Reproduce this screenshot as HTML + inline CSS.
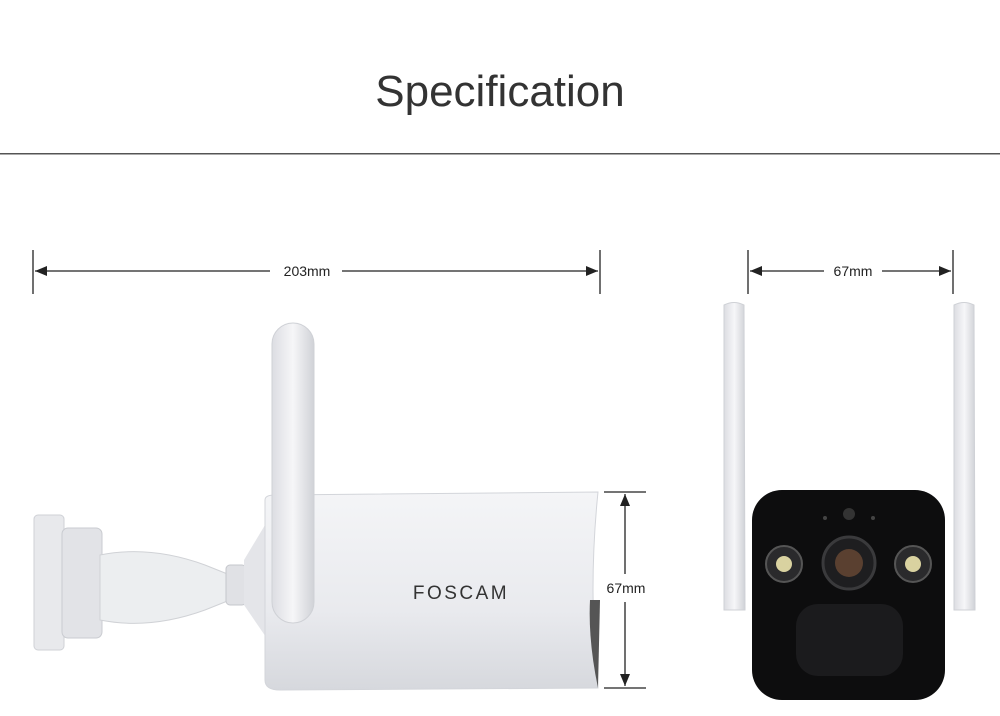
<!DOCTYPE html>
<html><head><meta charset="utf-8"><style>
html,body{margin:0;padding:0;background:#fff;width:1000px;height:716px;overflow:hidden}
</style></head><body>
<svg width="1000" height="716" viewBox="0 0 1000 716" xmlns="http://www.w3.org/2000/svg">
<defs>
<linearGradient id="body" x1="0" y1="0" x2="0" y2="1">
<stop offset="0" stop-color="#f4f5f7"/><stop offset="0.6" stop-color="#e9eaee"/><stop offset="1" stop-color="#d6d8dd"/></linearGradient>
<linearGradient id="ant" x1="0" y1="0" x2="1" y2="0">
<stop offset="0" stop-color="#dcdde2"/><stop offset="0.5" stop-color="#f6f6f8"/><stop offset="1" stop-color="#d0d2d7"/></linearGradient>
</defs>
<text x="500" y="106" text-anchor="middle" font-family="Liberation Sans, sans-serif" font-size="44" fill="#333">Specification</text>
<rect x="0" y="153" width="1000" height="1.5" fill="#555"/>

<g stroke="#222" stroke-width="1.3" fill="#222" font-family="Liberation Sans, sans-serif">
<line x1="33" y1="250" x2="33" y2="294"/><line x1="600" y1="250" x2="600" y2="294"/>
<line x1="35" y1="271" x2="270" y2="271"/><line x1="342" y1="271" x2="598" y2="271"/>
<path d="M35 271 l12 -5 v10z M598 271 l-12 -5 v10z" stroke="none"/>
<line x1="748" y1="250" x2="748" y2="294"/><line x1="953" y1="250" x2="953" y2="294"/>
<line x1="750" y1="271" x2="824" y2="271"/><line x1="882" y1="271" x2="951" y2="271"/>
<path d="M750 271 l12 -5 v10z M951 271 l-12 -5 v10z" stroke="none"/>
<line x1="604" y1="492" x2="646" y2="492"/><line x1="604" y1="688" x2="646" y2="688"/>
<line x1="625" y1="494" x2="625" y2="574"/><line x1="625" y1="602" x2="625" y2="686"/>
<path d="M625 494 l-5 12 h10z M625 686 l-5 -12 h10z" stroke="none"/>
</g>
<g font-family="Liberation Sans, sans-serif" font-size="14" fill="#222" text-anchor="middle">
<text x="307" y="276">203mm</text><text x="853" y="276">67mm</text><text x="626" y="593">67mm</text>
</g>

<rect x="34" y="515" width="30" height="135" rx="4" fill="#e8e9ec" stroke="#cfd1d6"/>
<rect x="62" y="528" width="40" height="110" rx="6" fill="#e2e3e7" stroke="#c9cbd0"/>
<path d="M100 555 Q150 545 205 565 L230 575 L230 600 L205 610 Q150 630 100 620 Z" fill="#eceef0" stroke="#d0d2d6"/>
<rect x="226" y="565" width="20" height="40" rx="4" fill="#e0e1e5" stroke="#c5c7cc"/>
<path d="M244 560 L268 520 L268 640 L244 605 Z" fill="#e4e5e9"/>
<path d="M265 500 Q265 495 275 495 L598 492 Q588 590 598 688 L280 690 Q265 690 265 680 Z" fill="url(#body)" stroke="#d3d5da"/>
<path d="M590 600 Q588 640 598 688 L600 600 Z" fill="#555"/>
<rect x="272" y="323" width="42" height="300" rx="21" fill="url(#ant)" stroke="#cfd1d6"/>
<text x="461" y="599" text-anchor="middle" font-family="Liberation Sans, sans-serif" font-size="19" letter-spacing="2.5" fill="#333">FOSCAM</text>

<path d="M724 305 Q734 300 744 305 L745 610 L724 610 Z" fill="url(#ant)" stroke="#cfd1d6"/>
<path d="M954 305 Q964 300 974 305 L975 610 L954 610 Z" fill="url(#ant)" stroke="#cfd1d6"/>
<rect x="752" y="490" width="193" height="210" rx="30" fill="#0d0d0e"/>
<circle cx="849" cy="514" r="6" fill="#333"/>
<circle cx="825" cy="518" r="2" fill="#444"/><circle cx="873" cy="518" r="2" fill="#444"/>
<circle cx="784" cy="564" r="18" fill="#2a2a2c" stroke="#555" stroke-width="2"/>
<circle cx="784" cy="564" r="8" fill="#d9d2a0"/>
<circle cx="913" cy="564" r="18" fill="#2a2a2c" stroke="#555" stroke-width="2"/>
<circle cx="913" cy="564" r="8" fill="#d9d2a0"/>
<circle cx="849" cy="563" r="26" fill="#1e1e20" stroke="#3a3a3c" stroke-width="3"/>
<circle cx="849" cy="563" r="14" fill="#5a4030"/>
<rect x="796" y="604" width="107" height="72" rx="22" fill="#1b1b1d"/>
</svg>
</body></html>
